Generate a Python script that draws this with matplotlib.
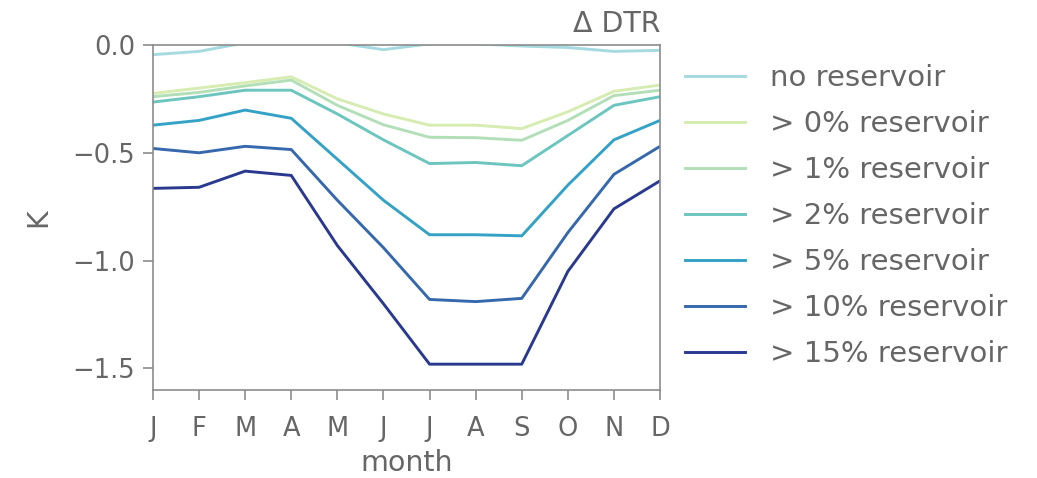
import matplotlib
matplotlib.use("Agg")
import matplotlib.pyplot as plt

# Monthly change in diurnal temperature range, by reservoir fraction
months = ["J", "F", "M", "A", "M", "J", "J", "A", "S", "O", "N", "D"]
labels = ["no reservoir", "> 0% reservoir", "> 1% reservoir", "> 2% reservoir",
          "> 5% reservoir", "> 10% reservoir", "> 15% reservoir"]

no_res = [-0.045, -0.03, 0.01, 0.01, 0.01, -0.022, 0.005, 0.005, -0.005, -0.012, -0.03, -0.025]
res_0 = [-0.225, -0.20, -0.175, -0.148, -0.25, -0.32, -0.372, -0.372, -0.388, -0.31, -0.215, -0.186]
res_1 = [-0.24, -0.22, -0.19, -0.163, -0.28, -0.37, -0.428, -0.43, -0.442, -0.35, -0.235, -0.21]
res_2 = [-0.265, -0.24, -0.21, -0.21, -0.32, -0.44, -0.55, -0.545, -0.56, -0.42, -0.28, -0.24]
res_5 = [-0.372, -0.35, -0.302, -0.34, -0.53, -0.72, -0.88, -0.88, -0.885, -0.65, -0.44, -0.35]
res_10 = [-0.48, -0.50, -0.47, -0.485, -0.72, -0.94, -1.18, -1.19, -1.175, -0.87, -0.60, -0.47]
res_15 = [-0.665, -0.66, -0.585, -0.605, -0.93, -1.20, -1.48, -1.48, -1.48, -1.05, -0.76, -0.63]

series = [no_res, res_0, res_1, res_2, res_5, res_10, res_15]
colors = ["#a5dbe0", "#d6ecb0", "#b3dfb8", "#6cc5bf", "#34a2c6", "#3668ad", "#2a3990"]

grey = "0.4"
plt.rcParams["font.family"] = ["DejaVu Sans"]

fig = plt.figure(figsize=(10.37, 4.78), dpi=100)
ax = fig.add_axes([0.1475, 0.184, 0.489, 0.722])

x = range(len(months))
for vals, lab, col in zip(series, labels, colors):
    ax.plot(x, vals, color=col, lw=2.1, label=lab)

ax.set_xlim(0, 11)
ax.set_ylim(-1.6, 0)
ax.set_xticks(list(x))
ax.set_xticklabels(months)
ax.set_yticks([0.0, -0.5, -1.0, -1.5])
ax.set_yticklabels(["0.0", "\u22120.5", "\u22121.0", "\u22121.5"])

for sp in ax.spines.values():
    sp.set_color("0.55")
    sp.set_linewidth(1.2)
ax.tick_params(colors="0.55", labelcolor=grey, labelsize=18.5, length=7, width=1.2)
ax.tick_params(axis="x", pad=11.5)
ax.tick_params(axis="y", pad=6)

ax.set_xlabel("month", fontsize=20.5, color=grey, labelpad=5.5)
ax.set_ylabel("K", fontsize=20.5, color=grey, labelpad=14)
ax.set_title("\u0394 DTR", loc="right", fontsize=20.5, color=grey, pad=9)

fig.legend(loc="center left", bbox_to_anchor=(0.6606, 0.548), frameon=False,
           fontsize=21, labelcolor=grey, handlelength=2.05, handletextpad=0.86,
           labelspacing=0.62, borderpad=0, borderaxespad=0)

fig.savefig("out.png", dpi=100, facecolor="white")
